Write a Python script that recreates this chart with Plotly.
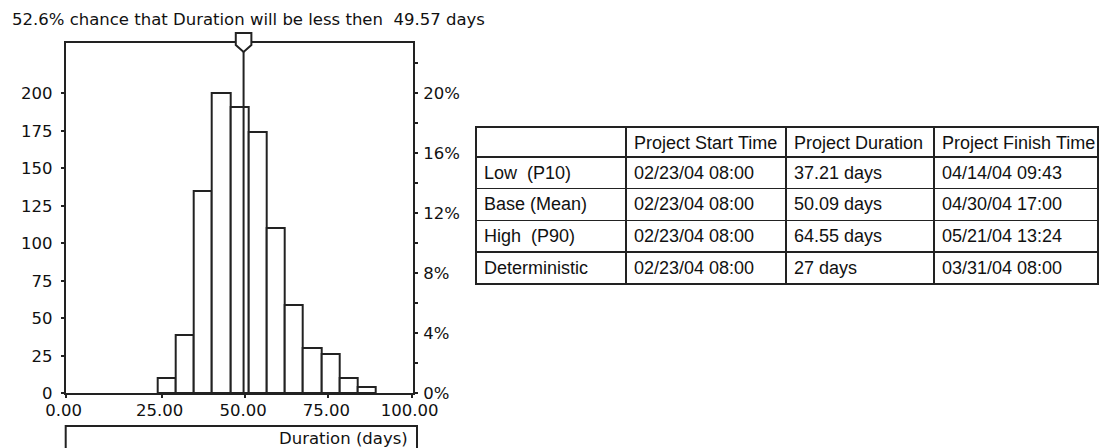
import plotly.graph_objects as go

W, H = 1100, 448

# ---- data ----
BIN_EDGES = [23.75, 29.21, 34.67, 40.13, 45.59, 51.05, 56.51, 61.97, 67.43, 72.89, 78.35, 83.81, 89.27]
COUNTS = [10, 39, 135, 200, 191, 174, 110, 59, 30, 26, 10, 4]
TOTAL_SAMPLES = 1000
MARKER_VALUE = 49.57
MARKER_PROB = 52.6

Y_TICKS = [0, 25, 50, 75, 100, 125, 150, 175, 200]
PCT_TICKS = [0.0, 0.04, 0.08, 0.12, 0.16, 0.20]
X_RANGE = [-3.8, 100.4]
X_TICK_VALUES = [-3.8, 25, 50, 75, 100]
X_TICK_LABELS = ["0.00", "25.00", "50.00", "75.00", "100.00"]
Y_RANGE = [0, 233.5]
X_TITLE = "Duration (days)"

TABLE_HEADER = ["", "Project Start Time", "Project Duration", "Project Finish Time"]
ROW_LABELS = ["Low  (P10)", "Base (Mean)", "High  (P90)", "Deterministic"]
START_TIMES = ["02/23/04 08:00", "02/23/04 08:00", "02/23/04 08:00", "02/23/04 08:00"]
DURATIONS = ["37.21 days", "50.09 days", "64.55 days", "27 days"]
FINISH_TIMES = ["04/14/04 09:43", "04/30/04 17:00", "05/21/04 13:24", "03/31/04 08:00"]

# ---- derived ----
centers = [(a + b) / 2 for a, b in zip(BIN_EDGES[:-1], BIN_EDGES[1:])]
widths = [b - a for a, b in zip(BIN_EDGES[:-1], BIN_EDGES[1:])]
pcts = [c / TOTAL_SAMPLES for c in COUNTS]

def nb(items):
    # keep spaces (no wrapping / collapsing) in table cells
    return [s.replace(" ", "\u00a0") for s in items]

INK = "#222222"
AXFONT = dict(family="DejaVu Sans", size=16.5, color="#111111")
TBLFONT = dict(family="Liberation Sans", size=18, color="#111111")

def px_x(p):
    return p / W

def px_y(p):
    return 1 - p / H

fig = go.Figure()

fig.add_trace(go.Bar(
    x=centers, y=COUNTS, width=widths,
    marker=dict(color="white", line=dict(color=INK, width=2)),
    xaxis="x", yaxis="y", showlegend=False, hoverinfo="skip",
))
fig.add_trace(go.Scatter(
    x=centers, y=pcts, mode="markers", marker=dict(opacity=0),
    xaxis="x", yaxis="y2", showlegend=False, hoverinfo="skip",
))

fig.add_trace(go.Table(
    domain=dict(x=[px_x(476), px_x(1098)], y=[0, px_y(127)]),
    columnwidth=[150, 160, 148, 164],
    header=dict(values=nb(TABLE_HEADER), align="left", height=30,
                line=dict(color=INK, width=1.5), fill=dict(color="white"),
                font=TBLFONT),
    cells=dict(values=[nb(ROW_LABELS), nb(START_TIMES), nb(DURATIONS), nb(FINISH_TIMES)],
               align="left", height=31.7,
               line=dict(color=INK, width=1.5), fill=dict(color="white"),
               font=TBLFONT),
))

common_axis = dict(showline=True, linecolor=INK, linewidth=2, showgrid=False,
                   zeroline=False, ticks="outside", tickcolor=INK, tickwidth=2,
                   tickfont=AXFONT, fixedrange=True, automargin=False)

fig.update_layout(
    width=W, height=H, autosize=False,
    margin=dict(l=0, r=0, t=0, b=0, pad=0),
    paper_bgcolor="white", plot_bgcolor="white",
    bargap=0,
    xaxis=dict(domain=[px_x(65.7), px_x(413)], range=X_RANGE,
               tickvals=X_TICK_VALUES, ticktext=X_TICK_LABELS,
               ticklen=3, mirror=True, anchor="y", ticklabelstandoff=-2,
               ticklabelshift=-2, **common_axis),
    yaxis=dict(domain=[px_y(393.3), px_y(43)], range=Y_RANGE,
               tickvals=Y_TICKS, ticklen=3, anchor="x", ticklabelstandoff=5,
               **common_axis),
    yaxis2=dict(overlaying="y", side="right", anchor="x",
                range=[Y_RANGE[0] / TOTAL_SAMPLES, Y_RANGE[1] / TOTAL_SAMPLES],
                tickvals=PCT_TICKS, tickformat=".0%", ticklen=3, ticklabelstandoff=2,
                minor=dict(ticks="outside", ticklen=3, tickcolor=INK, tickwidth=2, dtick=0.02, tick0=0),
                **common_axis),
    shapes=[
        dict(type="line", xref="x", x0=MARKER_VALUE, x1=MARKER_VALUE,
             yref="y domain", y0=0, y1=1, line=dict(color=INK, width=2), layer="above"),
        dict(type="path", xref="x", xsizemode="pixel", xanchor=MARKER_VALUE,
             yref="y domain", ysizemode="pixel", yanchor=1,
             path="M -7.8,10 L 7.8,10 L 7.8,-2 L 0,-9 L -7.8,-2 Z",
             fillcolor="white", line=dict(color=INK, width=2), layer="above"),
        dict(type="rect", xref="paper", yref="paper",
             x0=px_x(65.7), x1=px_x(417), y0=px_y(449), y1=px_y(426),
             line=dict(color=INK, width=2), fillcolor="rgba(0,0,0,0)"),
    ],
    annotations=[
        dict(xref="paper", yref="paper", x=px_x(9.7), y=px_y(19),
             xanchor="left", yanchor="middle", showarrow=False,
             text=f"{MARKER_PROB}% chance that Duration will be less then\u00a0 {MARKER_VALUE} days",
             font=AXFONT),
        dict(xref="paper", yref="paper", x=px_x(410), y=px_y(438.5),
             xanchor="right", yanchor="middle", showarrow=False,
             text=X_TITLE, font=AXFONT),
    ],
)

# let the 1100x448 figure fill the window exactly (no default page margin)
fig.write_html("out.html",
               config={"displayModeBar": False},
               post_script="document.body.style.margin='0px';document.body.style.overflow='hidden';")
